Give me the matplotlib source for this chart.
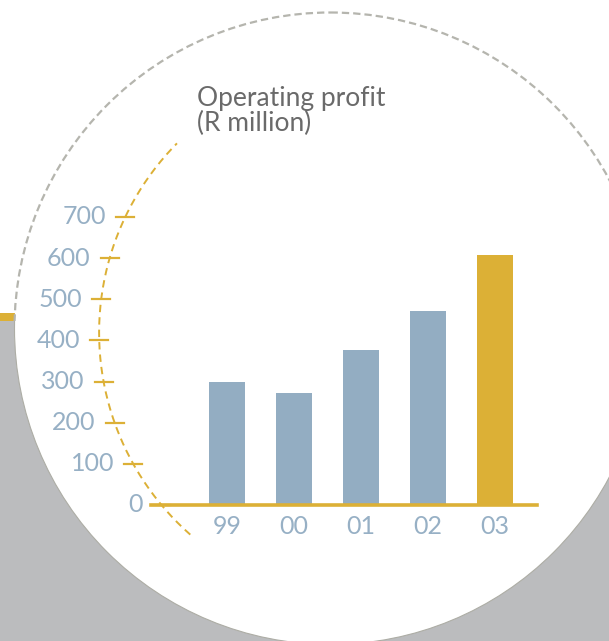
import numpy as np
import matplotlib
matplotlib.use("Agg")
import matplotlib.pyplot as plt
from matplotlib import transforms
from matplotlib.patches import Circle, Rectangle

# data
years = ["99", "00", "01", "02", "03"]
profit = [298, 273, 377, 472, 608]
bar_colors = ["#93adc2", "#93adc2", "#93adc2", "#93adc2", "#dcb036"]
yticks = [0, 100, 200, 300, 400, 500, 600, 700]
title = "Operating profit\n(R million)"

W, H = 609, 641
YELLOW = "#dcb036"
BLUE = "#93adc2"
LABEL = "#97b0c5"
GREY_BG = "#bbbcbe"

plt.rcParams['font.family'] = ['Lato', 'DejaVu Sans']

fig = plt.figure(figsize=(W / 100, H / 100), dpi=100)

# background layer in pixel coordinates
bg = fig.add_axes([0, 0, 1, 1], zorder=0)
bg.set_xlim(0, W)
bg.set_ylim(H, 0)
bg.axis("off")
bg.add_patch(Rectangle((0, 321), W, H - 321, color=GREY_BG, lw=0))
bg.add_patch(Rectangle((0, 313), W, 8, color=YELLOW, lw=0))
ccx, ccy, cr = 330.5, 328.5, 316
bg.add_patch(Circle((ccx, ccy), cr, facecolor="white", lw=0))
# dashed rim above the grey band, plain rim below it
top_clip = Rectangle((0, 0), W, 321, transform=bg.transData)
rim = Circle((ccx, ccy), cr, fill=False, edgecolor="#b5b5ae", lw=1.6,
             linestyle=(0, (3.3, 1.8)))
bg.add_patch(rim)
rim.set_clip_path(top_clip)
low_clip = Rectangle((0, 321), W, H - 321, transform=bg.transData)
rim2 = Circle((ccx, ccy), cr, fill=False, edgecolor="#adada5", lw=0.8)
bg.add_patch(rim2)
rim2.set_clip_path(low_clip)

bg.text(197, 86, title, ha="left", va="top", fontsize=19, color="#6a6a6a",
        linespacing=1.0)

# bar chart axes
x0, x1 = 151, 537
ybase, ytop = 505, 217
ax = fig.add_axes([x0 / W, (H - ybase) / H, (x1 - x0) / W, (ybase - ytop) / H], zorder=1)
ax.patch.set_alpha(0)
pos = np.arange(len(years))
ax.bar(pos, profit, width=0.537, color=bar_colors, zorder=2)
ax.set_xlim(-76 / 67, 310 / 67)
ax.set_ylim(0, 700)
for s in ["top", "right", "left"]:
    ax.spines[s].set_visible(False)
ax.spines["bottom"].set_color(YELLOW)
ax.spines["bottom"].set_linewidth(2.6)
ax.spines["bottom"].set_zorder(3)
ax.set_xticks(pos, years)
ax.tick_params(axis="x", length=0, pad=7, labelsize=18, labelcolor=LABEL)
ax.set_yticks([])

# curved value axis
acx, acy, ar = 368.3, 332.7, 269.2
th = np.radians(np.linspace(131.4, 224.7, 200))
bg.plot(acx + ar * np.cos(th), acy + ar * np.sin(th), color=YELLOW, lw=1.4,
        dashes=(3.8, 2.6))

trans = transforms.blended_transform_factory(bg.transData, ax.transData)
to_bg = bg.transData.inverted()
for v in yticks:
    ypx = to_bg.transform(ax.transData.transform((0, v)))[1]
    xa = acx - np.sqrt(ar ** 2 - (ypx - acy) ** 2)
    ax.plot([xa - 9, xa + 9], [v, v], transform=trans, color=YELLOW, lw=1.6,
            clip_on=False, zorder=1)
    ax.text(xa - 19, v, str(v), transform=trans, ha="right", va="center",
            fontsize=18, color=LABEL)

fig.savefig("out.png", dpi=100)
